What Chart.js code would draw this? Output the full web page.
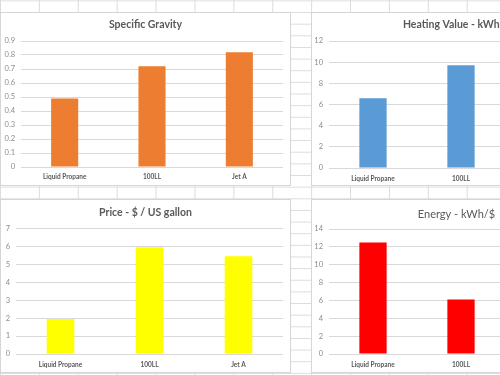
<!DOCTYPE html>
<html><head><meta charset="utf-8">
<script src="https://cdn.jsdelivr.net/npm/chart.js@4"></script>
<style>
html,body{margin:0;padding:0;}
body{width:500px;height:375px;overflow:hidden;position:relative;background-color:#fff;
background-image:linear-gradient(to right,#dcdcdc 1px,transparent 1px),linear-gradient(to bottom,#dcdcdc 1px,transparent 1px);
background-size:38.9px 11.65px;background-position:0 0.4px;}
.box{position:absolute;background:#fff;border:1px solid #d6d6d6;box-sizing:border-box;}
.box canvas{position:absolute;left:-1px;top:-1px;}
</style></head><body>
<div class="box" style="left:0;top:12px;width:291px;height:174px"><canvas id="c1" width="291" height="174"></canvas></div>
<div class="box" style="left:311px;top:12px;width:291px;height:174px"><canvas id="c2" width="291" height="174"></canvas></div>
<div class="box" style="left:0;top:199px;width:291px;height:174px"><canvas id="c3" width="291" height="174"></canvas></div>
<div class="box" style="left:311px;top:199px;width:291px;height:174px"><canvas id="c4" width="291" height="174"></canvas></div>
<script>
const categories = ['Liquid Propane', '100LL', 'Jet A'];
const specificGravity = [0.49, 0.72, 0.82];
const heatingValue = [6.6, 9.7, 10.4];
const price = [1.95, 5.95, 5.45];
const energyPerDollar = [12.5, 6.1, 7.2];
const titles = ['Specific Gravity', 'Heating Value - kWh/L', 'Price - $ / US gallon', 'Energy - kWh/$'];
const yMaxes = [0.9, 12, 7, 14];
const ySteps = [0.1, 2, 1, 2];

const F = 'Lato, "Open Sans", sans-serif';

const centerTitle = {
  id: 'centerTitle',
  afterLayout(chart) {
    const t = chart.titleBlock;
    if (t) { t.left = 0; t.right = chart.width; }
  }
};

function makeChart(id, values, color, yMax, yStep, titleText, titleFont, titlePad, yWidth, padR, xHeight, xPad) {
  new Chart(document.getElementById(id), {
    type: 'bar',
    data: { labels: categories, datasets: [{ data: values, backgroundColor: color, barPercentage: 0.31, categoryPercentage: 1 }] },
    plugins: [centerTitle],
    options: {
      responsive: false, animation: false, devicePixelRatio: 1,
      layout: { padding: { left: 0, right: padR, top: 0, bottom: 0 } },
      plugins: {
        legend: { display: false }, tooltip: { enabled: false },
        title: { display: true, text: titleText, color: '#595959', font: titleFont, padding: titlePad }
      },
      scales: {
        x: {
          grid: { display: false, drawTicks: false }, border: { display: false },
          ticks: { color: '#595959', font: { family: F, size: 6.5, weight: 'bold' }, padding: xPad, maxRotation: 0, autoSkip: false },
          afterFit: s => { s.height = xHeight; }
        },
        y: {
          min: 0, max: yMax,
          ticks: { stepSize: yStep, color: '#8c8c8c', font: { family: F, size: 7.5 }, padding: 6 },
          grid: { color: '#d9d9d9', drawTicks: false }, border: { display: false },
          afterFit: s => { s.width = yWidth; }
        }
      }
    }
  });
}

makeChart('c1', specificGravity, '#ED7D31', yMaxes[0], ySteps[0], titles[0],
  { family: F, size: 10.5, weight: 'bold', lineHeight: 1.2 }, { top: 6.7, bottom: 9.7 }, 21, 8, 19, 6);
makeChart('c2', heatingValue, '#5B9BD5', yMaxes[1], ySteps[1], titles[1],
  { family: F, size: 10.5, weight: 'bold', lineHeight: 1.2 }, { top: 6.7, bottom: 9.7 }, 18, 9, 18, 7);
makeChart('c3', price, '#FFFF00', yMaxes[2], ySteps[2], titles[2],
  { family: F, size: 10.5, weight: 'bold', lineHeight: 1.2 }, { top: 7.7, bottom: 9 }, 16, 8, 19, 7);
makeChart('c4', energyPerDollar, '#FF0000', yMaxes[3], ySteps[3], titles[3],
  { family: F, size: 11, weight: 'normal', lineHeight: 1.2 }, { top: 8.4, bottom: 8.4 }, 18, 9, 19, 7);
</script>
</body></html>
